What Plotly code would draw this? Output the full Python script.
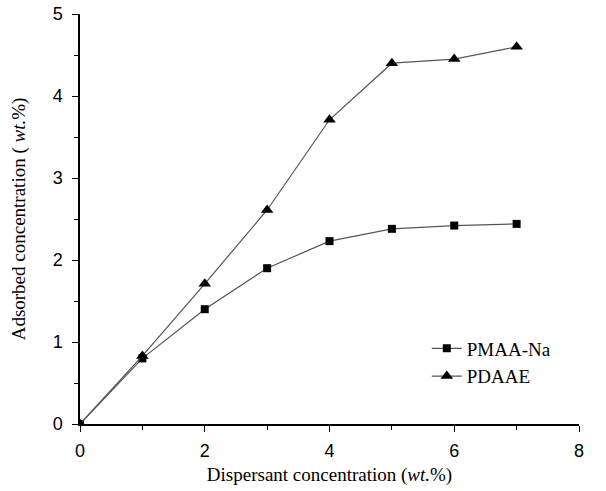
import plotly.graph_objects as go

x_vals = [0, 1, 2, 3, 4, 5, 6, 7]
pmaa_na = [0.0, 0.80, 1.40, 1.90, 2.23, 2.38, 2.42, 2.44]
pdaae = [0.0, 0.83, 1.71, 2.61, 3.71, 4.40, 4.45, 4.60]

SERIF = "'Times New Roman', 'Liberation Serif', 'DejaVu Serif', serif"
SANS = "Arial, 'Liberation Sans', sans-serif"

fig = go.Figure()
fig.add_trace(go.Scatter(x=x_vals, y=pmaa_na, name="PMAA-Na", mode="lines+markers",
                         line=dict(color="#555555", width=1.2),
                         marker=dict(symbol="square", size=8, color="black")))
fig.add_trace(go.Scatter(x=x_vals, y=pdaae, name="PDAAE", mode="lines+markers",
                         line=dict(color="#555555", width=1.2),
                         marker=dict(symbol="triangle-up", size=11, color="black")))

axis_common = dict(showline=True, linecolor="black", linewidth=1.5, showgrid=False,
                   zeroline=False, ticks="outside", ticklen=6, tickwidth=1.2, tickcolor="black",
                   tickfont=dict(family=SANS, size=18, color="black"),
                   mirror=False, automargin=False)

fig.update_xaxes(range=[0, 8], tick0=0, dtick=2, ticklabelstandoff=4,
                 minor=dict(dtick=1, ticks="outside", ticklen=4, tickcolor="black", tickwidth=1.2),
                 title=dict(text="Dispersant concentration (<i>wt.</i>%)",
                            font=dict(family=SERIF, size=19, color="black"),
                            standoff=7),
                 **axis_common)
fig.update_yaxes(range=[0, 5], tick0=0, dtick=1, ticklabelstandoff=6,
                 minor=dict(dtick=0.5, ticks="outside", ticklen=4, tickcolor="black", tickwidth=1.2),
                 title=dict(text="Adsorbed concentration ( <i>wt.</i>%)",
                            font=dict(family=SERIF, size=19, color="black"),
                            standoff=22),
                 **axis_common)

fig.update_layout(width=606, height=491, margin=dict(l=80, r=27, t=14, b=67),
                  plot_bgcolor="white", paper_bgcolor="white",
                  legend=dict(x=0.695, y=0.15, xanchor="left", yanchor="middle",
                              font=dict(family=SERIF, size=19, color="black"),
                              bgcolor="rgba(0,0,0,0)", tracegroupgap=0))

fig.write_html("out.html")
